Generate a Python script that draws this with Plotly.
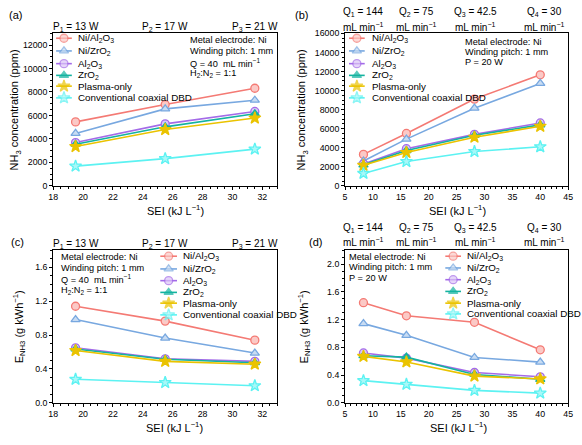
import plotly.graph_objects as go

# ---------------- data ----------------
SERIES = ["Ni/Al<sub>2</sub>O<sub>3</sub>", "Ni/ZrO<sub>2</sub>", "Al<sub>2</sub>O<sub>3</sub>",
          "ZrO<sub>2</sub>", "Plasma-only", "Conventional coaxial DBD"]

sei_power = [19.5, 25.5, 31.5]          # panels (a), (c)
sei_flow = [8.3, 16.0, 28.2, 40.0]      # panels (b), (d)

power_labels = ["P<sub>1</sub> = 13 W", "P<sub>2</sub> = 17 W", "P<sub>3</sub> = 21 W"]
flow_labels = ["Q<sub>1</sub> = 144", "Q<sub>2</sub> = 75", "Q<sub>3</sub> = 42.5", "Q<sub>4</sub> = 30"]

# (a) NH3 concentration vs power (ppm)
a_ni_al = [5450, 6930, 8320]
a_ni_zr = [4470, 6560, 7300]
a_al = [3690, 5280, 6340]
a_zr = [3550, 5030, 6150]
a_plasma = [3350, 4800, 5780]
a_conv = [1680, 2320, 3130]

# (b) NH3 concentration vs flow (ppm)
b_ni_al = [3300, 5500, 9100, 11650]
b_ni_zr = [2600, 4900, 8150, 10750]
b_al = [2300, 3900, 5400, 6600]
b_zr = [2200, 3700, 5300, 6400]
b_plasma = [2150, 3500, 5100, 6250]
b_conv = [1300, 2550, 3600, 4100]

# (c) energy yield vs power (g/kWh)
c_ni_al = [1.14, 0.965, 0.74]
c_ni_zr = [0.983, 0.765, 0.588]
c_al = [0.65, 0.52, 0.49]
c_zr = [0.636, 0.515, 0.474]
c_plasma = [0.618, 0.49, 0.456]
c_conv = [0.278, 0.24, 0.202]

# (d) energy yield vs flow (g/kWh)
d_ni_al = [1.445, 1.256, 1.162, 0.765]
d_ni_zr = [1.143, 0.974, 0.655, 0.588]
d_al = [0.72, 0.645, 0.438, 0.376]
d_zr = [0.68, 0.66, 0.41, 0.34]
d_plasma = [0.67, 0.59, 0.386, 0.345]
d_conv = [0.32, 0.268, 0.18, 0.14]

# ---------------- styles ----------------
W, H = 582, 445
FONT = "Liberation Sans, Arial, sans-serif"
STY = [
    dict(color="#F47A74", fill="#FBC9C6", symbol="circle", size=8),
    dict(color="#78A8E0", fill="#C8DCF3", symbol="triangle-up", size=8),
    dict(color="#A46BE8", fill="#DCC6F7", symbol="circle", size=8),
    dict(color="#14B3A0", fill="#14B3A0", symbol="triangle-up", size=8),
    dict(color="#EAC300", fill="#EAC300", symbol="star", size=9),
    dict(color="#5CF2F2", fill="#A8F8F8", symbol="star", size=9),
]


def px(x):
    return x / W


def py(y):
    return 1 - y / H


fig = go.Figure()

panels = [
    dict(ax="", x=sei_power, ys=[a_ni_al, a_ni_zr, a_al, a_zr, a_plasma, a_conv]),
    dict(ax="2", x=sei_flow, ys=[b_ni_al, b_ni_zr, b_al, b_zr, b_plasma, b_conv]),
    dict(ax="3", x=sei_power, ys=[c_ni_al, c_ni_zr, c_al, c_zr, c_plasma, c_conv]),
    dict(ax="4", x=sei_flow, ys=[d_ni_al, d_ni_zr, d_al, d_zr, d_plasma, d_conv]),
]

for p in panels:
    for name, y, s in zip(SERIES, p["ys"], STY):
        fig.add_trace(go.Scatter(
            x=p["x"], y=y, name=name, mode="lines+markers", showlegend=False,
            xaxis="x" + p["ax"], yaxis="y" + p["ax"],
            line=dict(color=s["color"], width=1.6),
            marker=dict(symbol=s["symbol"], size=s["size"], color=s["fill"],
                        line=dict(color=s["color"], width=1.3)),
        ))

# ---------------- axes ----------------
XL, XR = (49, 277), (346, 573)
YT, YB = (29, 185), (251, 407)


def axis_common():
    return dict(showline=True, linecolor="black", linewidth=1, mirror=True,
                ticks="outside", ticklen=3, tickwidth=1, tickcolor="black",
                showgrid=False, zeroline=False,
                tickfont=dict(family=FONT, size=8.8, color="black"),
                minor=dict(ticks="outside", ticklen=2, tickcolor="black", showgrid=False),
                fixedrange=True)


layout_axes = {}
layout_axes["xaxis"] = dict(domain=[px(XL[0]), px(XL[1])], anchor="y", range=[18, 33], dtick=2, tick0=18, **axis_common())
layout_axes["yaxis"] = dict(domain=[py(YT[1]), py(YT[0])], anchor="x", range=[0, 13000], dtick=2000, tickformat="d", **axis_common())
layout_axes["xaxis2"] = dict(domain=[px(XR[0]), px(XR[1])], anchor="y2", range=[5, 45], dtick=5, tick0=5, **axis_common())
layout_axes["yaxis2"] = dict(domain=[py(YT[1]), py(YT[0])], anchor="x2", range=[0, 16000], dtick=2000, tickformat="d", **axis_common())
layout_axes["xaxis3"] = dict(domain=[px(XL[0]), px(XL[1])], anchor="y3", range=[18, 33], dtick=2, tick0=18, **axis_common())
layout_axes["yaxis3"] = dict(domain=[py(YB[1]), py(YB[0])], anchor="x3", range=[0, 1.8], dtick=0.4, tickformat=".1f", **axis_common())
layout_axes["xaxis4"] = dict(domain=[px(XR[0]), px(XR[1])], anchor="y4", range=[5, 45], dtick=5, tick0=5, **axis_common())
layout_axes["yaxis4"] = dict(domain=[py(YB[1]), py(YB[0])], anchor="x4", range=[0, 2.2], dtick=0.4, tickformat=".1f", **axis_common())
# overlay pixel axes for the hand-drawn legends
layout_axes["xaxis5"] = dict(domain=[0, 1], anchor="y5", range=[0, W], visible=False, fixedrange=True)
layout_axes["yaxis5"] = dict(domain=[0, 1], anchor="x5", range=[H, 0], visible=False, fixedrange=True)

annotations = []


def text(x, y, s, size=9.2, xanchor="left", angle=0):
    annotations.append(dict(x=px(x), y=py(y), xref="paper", yref="paper", text=s,
                            showarrow=False, xanchor=xanchor, yanchor="middle",
                            textangle=angle, font=dict(family=FONT, size=size, color="black")))


# ---------------- legends (drawn) ----------------
def legend(x0, x1, xt, rows):
    for name, s, yy in zip(SERIES, STY, rows):
        fig.add_trace(go.Scatter(
            x=[x0, (x0 + x1) / 2, x1], y=[yy, yy, yy], mode="lines+markers", showlegend=False,
            xaxis="x5", yaxis="y5", hoverinfo="skip",
            line=dict(color=s["color"], width=1.6),
            marker=dict(symbol=s["symbol"], size=[0, s["size"], 0], color=s["fill"],
                        line=dict(color=s["color"], width=[0, 1.3, 0])),
        ))
        text(xt, yy, name, size=9.8)


legend(52, 68, 72, [34, 47, 60, 72, 83, 95])
legend(350, 366, 371, [34, 47, 60, 72, 83, 95])
legend(158, 175, 179, [257, 270, 282, 294, 305, 317])
legend(448, 464, 468, [257, 269, 281, 293, 305, 316])

# ---------------- info boxes ----------------
for i, s in enumerate(["Metal electrode: Ni", "Winding pitch: 1 mm",
                       "Q = 40  mL min<sup>−1</sup>", "H<sub>2</sub>:N<sub>2</sub> = 1:1"]):
    text(186, 36 + 11.5 * i, s)
for i, s in enumerate(["Metal electrode: Ni", "Winding pitch: 1 mm", "P = 20 W"]):
    text(466, 38 + 10.2 * i, s)
for i, s in enumerate(["Metal electrode: Ni", "Winding pitch: 1 mm",
                       "Q = 40  mL min<sup>−1</sup>", "H<sub>2</sub>:N<sub>2</sub> = 1:1"]):
    text(55, 258 + 11.4 * i, s)
for i, s in enumerate(["Metal electrode: Ni", "Winding pitch: 1 mm", "P = 20 W"]):
    text(348, 258 + 10.5 * i, s)

# ---------------- panel labels ----------------
text(2, 10, "(a)", size=11)
text(293, 10, "(b)", size=11)
text(4, 242, "(c)", size=11)
text(307, 242, "(d)", size=11)

# ---------------- condition labels above plots ----------------
for xv, s in zip(sei_power, power_labels):
    for ax, yy in (("x", 23), ("x3", 245)):
        annotations.append(dict(x=xv, y=py(yy), xref=ax, yref="paper", text=s, showarrow=False,
                                xanchor="center", yanchor="middle",
                                font=dict(family=FONT, size=10, color="black")))
for xv, s, sh in zip(sei_flow, flow_labels, [0, 10, 1, 4]):
    for ax, y1, y2 in (("x2", 7, 22), ("x4", 228, 242)):
        annotations.append(dict(x=xv, y=py(y1), xref=ax, yref="paper", text=s, showarrow=False,
                                xanchor="center", yanchor="middle", xshift=sh,
                                font=dict(family=FONT, size=10, color="black")))
        annotations.append(dict(x=xv, y=py(y2), xref=ax, yref="paper", text="mL min<sup>−1</sup>",
                                showarrow=False, xanchor="center", yanchor="middle", xshift=sh,
                                font=dict(family=FONT, size=10, color="black")))

# ---------------- axis titles ----------------
xt = "SEI (kJ L<sup>−1</sup>)"
text(173, 210, xt, size=11, xanchor="center")
text(460, 210, xt, size=11, xanchor="center")
text(172, 432, xt, size=11, xanchor="center")
text(461, 432, xt, size=11, xanchor="center")
yt1 = "NH<sub>3</sub> concentration (ppm)"
yt2 = "E<sub>NH3</sub> (g kWh<sup>−1</sup>)"
text(10, 107, yt1, size=11, xanchor="center", angle=-90)
text(302, 107, yt1, size=11, xanchor="center", angle=-90)
text(14, 329, yt2, size=11, xanchor="center", angle=-90)
text(304, 329, yt2, size=11, xanchor="center", angle=-90)

fig.update_layout(
    width=W, height=H, margin=dict(l=0, r=0, t=0, b=0),
    paper_bgcolor="white", plot_bgcolor="rgba(0,0,0,0)",
    font=dict(family=FONT, color="black"),
    showlegend=False, annotations=annotations, **layout_axes,
)

fig.write_html("out.html")
